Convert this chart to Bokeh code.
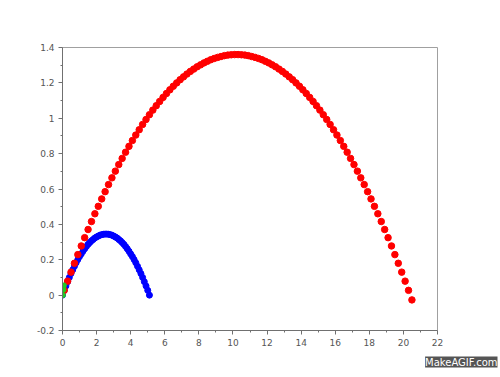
from bokeh.plotting import figure
from bokeh.models import FixedTicker, CustomJSTickFormatter, Range1d, Title
from bokeh.embed import file_html
from bokeh.resources import INLINE

red_x = [0.1, 0.3, 0.5, 0.7, 0.9, 1.1, 1.3, 1.5, 1.7, 1.9,
         2.1, 2.3, 2.5, 2.7, 2.9, 3.1, 3.3, 3.5, 3.7, 3.9,
         4.1, 4.3, 4.5, 4.7, 4.9, 5.1, 5.3, 5.5, 5.7, 5.9,
         6.1, 6.3, 6.5, 6.7, 6.9, 7.1, 7.3, 7.5, 7.7, 7.9,
         8.1, 8.3, 8.5, 8.7, 8.9, 9.1, 9.3, 9.5, 9.7, 9.9,
         10.1,
         10.3, 10.5, 10.7, 10.9, 11.1, 11.3, 11.5, 11.7, 11.9, 12.1,
         12.3, 12.5, 12.7, 12.9, 13.1, 13.3, 13.5, 13.7, 13.9, 14.1,
         14.3, 14.5, 14.7, 14.9, 15.1, 15.3, 15.5, 15.7, 15.9, 16.1,
         16.3, 16.5, 16.7, 16.9, 17.1, 17.3, 17.5, 17.7, 17.9, 18.1,
         18.3, 18.5, 18.7, 18.9, 19.1, 19.3, 19.5, 19.7, 19.9, 20.1,
         20.3, 20.5]
red_y = [0.027, 0.079, 0.130, 0.180, 0.229, 0.278, 0.325, 0.371, 0.416, 0.460,
         0.502, 0.544, 0.585, 0.625, 0.663, 0.701, 0.738, 0.773, 0.808, 0.841,
         0.874, 0.905, 0.935, 0.965, 0.993, 1.020, 1.046, 1.071, 1.095, 1.118,
         1.140, 1.161, 1.181, 1.200, 1.218, 1.234, 1.250, 1.265, 1.278, 1.291,
         1.302, 1.313, 1.322, 1.331, 1.338, 1.344, 1.349, 1.354, 1.357, 1.359,
         1.360,
         1.360, 1.359, 1.357, 1.354, 1.349, 1.344, 1.338, 1.331, 1.322, 1.313,
         1.302, 1.291, 1.278, 1.265, 1.250, 1.234, 1.218, 1.200, 1.181, 1.161,
         1.140, 1.118, 1.095, 1.071, 1.046, 1.020, 0.993, 0.965, 0.935, 0.905,
         0.874, 0.841, 0.808, 0.773, 0.738, 0.701, 0.663, 0.625, 0.585, 0.544,
         0.502, 0.460, 0.416, 0.371, 0.325, 0.278, 0.229, 0.180, 0.130, 0.079,
         0.027, -0.027]

blue_x = [0.0, 0.1, 0.2, 0.3, 0.4, 0.5, 0.6, 0.7, 0.8, 0.9,
          1.0, 1.1, 1.2, 1.3, 1.4, 1.5, 1.6, 1.7, 1.8, 1.9,
          2.0, 2.1, 2.2, 2.3, 2.4, 2.5,
          2.6, 2.7, 2.8, 2.9, 3.0, 3.1, 3.2, 3.3, 3.4, 3.5,
          3.6, 3.7, 3.8, 3.9, 4.0, 4.1, 4.2, 4.3, 4.4, 4.5,
          4.6, 4.7, 4.8, 4.9, 5.0, 5.1]
blue_y = [0.000, 0.027, 0.052, 0.076, 0.100, 0.122, 0.143, 0.163, 0.183, 0.201,
          0.218, 0.233, 0.248, 0.262, 0.275, 0.287, 0.297, 0.307, 0.315, 0.323,
          0.329, 0.334, 0.339, 0.342, 0.344, 0.345,
          0.345, 0.344, 0.342, 0.339, 0.334, 0.329, 0.323, 0.315, 0.307, 0.297,
          0.287, 0.275, 0.262, 0.248, 0.233, 0.218, 0.201, 0.183, 0.163, 0.143,
          0.122, 0.100, 0.076, 0.052, 0.027, 0.000]

green_x = [0.02, 0.05, 0.08]
green_y = [0.0, 0.03, 0.055]

x_ticks = [0, 2, 4, 6, 8, 10, 12, 14, 16, 18, 20, 22]
x_minor = [1, 3, 5, 7, 9, 11, 13, 15, 17, 19, 21]
y_ticks = [-0.2, 0.0, 0.2, 0.4, 0.6, 0.8, 1.0, 1.2, 1.4]
y_minor = [-0.1, 0.1, 0.3, 0.5, 0.7, 0.9, 1.1, 1.3]

p = figure(width=500, height=377, output_backend="svg", toolbar_location=None,
           x_range=Range1d(0, 22), y_range=Range1d(-0.2, 1.4),
           min_border_left=62, min_border_right=63, min_border_top=47, min_border_bottom=47)
p.background_fill_color = "white"
p.border_fill_color = "white"
p.outline_line_color = "#a0a0a0"
p.outline_line_width = 1
p.xgrid.visible = False
p.ygrid.visible = False

for ax, t, m in ((p.xaxis[0], x_ticks, x_minor), (p.yaxis[0], y_ticks, y_minor)):
    ax.ticker = FixedTicker(ticks=t, minor_ticks=m)
    ax.axis_line_color = "#707070"
    ax.major_tick_line_color = "#707070"
    ax.minor_tick_line_color = "#707070"
    ax.major_tick_out = 4
    ax.major_tick_in = 0
    ax.minor_tick_out = 2
    ax.minor_tick_in = 0
    ax.major_label_text_font = "DejaVu Sans"
    ax.major_label_text_font_size = "9px"
    ax.major_label_text_color = "#555555"
    ax.major_label_standoff = 4

p.yaxis[0].formatter = CustomJSTickFormatter(code="return (Math.round(tick*10)/10).toString();")

p.scatter(blue_x, blue_y, size=6, color="#0000ff")
p.scatter(red_x, red_y, size=6.5, color="#ff0000")
p.scatter(green_x, green_y, size=5, color="#22cc22")

wm = Title(text="MakeAGIF.com", align="right", text_color="white",
           text_font="DejaVu Sans", text_font_size="10px", text_font_style="normal",
           background_fill_color="#555555", standoff=12, offset=-60)
p.add_layout(wm, "below")

open("out.html", "w").write(file_html(p, INLINE))
